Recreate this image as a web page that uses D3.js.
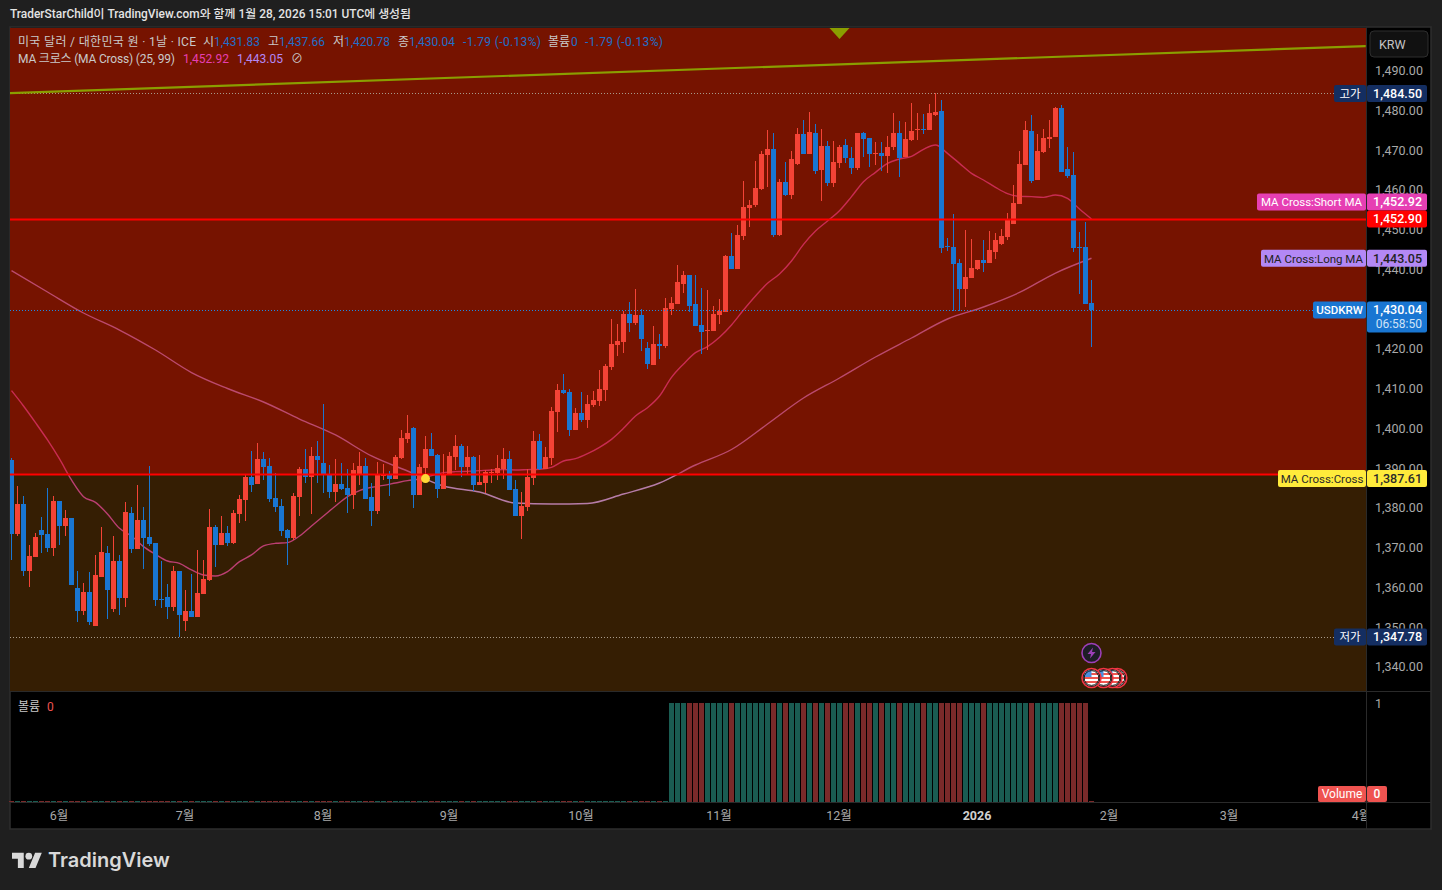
<!DOCTYPE html>
<html>
<head>
<meta charset="utf-8">
<script src="https://cdn.jsdelivr.net/npm/d3@7/dist/d3.min.js"></script>
<style>
  html, body { margin: 0; padding: 0; background: #1f1f1f; overflow: hidden; }
  svg { display: block; }
  text { font-family: Roboto, "Noto Sans CJK KR", sans-serif; }
  .axis .domain { display: none; }
  .axis text { fill: #a9a9a9; font-size: 12.5px; font-family: Roboto, "Noto Sans CJK KR", sans-serif; }
</style>
</head>
<body>
<div class="chart"></div>
<script>
const opens = [
  1392.29,1373.68,1381.22,1364.37,1367.89,1374.68,1373.68,1370.15,1381.98,1375.69,
  1377.70,1360.09,1354.31,1359.09,1350.53,1362.86,1368.90,1354.81,1366.88,1357.58,
  1378.96,1369.90,1377.20,1372.92,1371.41,1357.32,1357.83,1355.31,1364.37,1351.79,
  1354.31,1352.80,1358.58,1362.10,1375.44,1370.91,1373.93,1371.41,1378.71,1382.23,
  1388.02,1386.26,1392.55,1390.78,1382.73,1380.72,1374.68,1372.67,1382.99,1390.03,
  1388.02,1393.30,1391.54,1388.77,1384.24,1386.26,1385.25,1383.49,1388.52,1390.78,
  1382.99,1379.46,1388.27,1388.77,1387.51,1392.80,1397.58,1400.34,1383.49,1390.28,
  1395.06,1393.55,1385.00,1388.52,1393.05,1395.82,1390.53,1393.05,1386.00,1386.51,
  1389.02,1389.02,1390.03,1392.55,1385.00,1378.21,1380.47,1387.77,1397.07,1390.03,
  1392.80,1404.36,1409.90,1409.39,1399.83,1404.11,1402.35,1406.12,1407.13,1409.90,
  1415.68,1421.22,1421.97,1429.02,1426.75,1428.77,1420.46,1416.19,1421.47,1420.97,
  1430.28,1431.53,1436.56,1438.83,1431.53,1426.25,1424.74,1424.74,1428.77,1429.52,
  1443.61,1440.34,1448.64,1455.69,1456.44,1460.47,1469.02,1470.53,1448.89,1462.23,
  1458.96,1466.76,1474.30,1469.27,1474.55,1465.25,1471.28,1461.98,1467.01,1471.54,
  1468.26,1465.75,1474.55,1473.30,1469.35,1469.52,1468.77,1471.03,1474.55,1468.52,
  1472.79,1475.39,1475.56,1475.31,1479.08,1480.09,1446.13,1445.87,1441.85,1435.31,
  1438.08,1440.34,1442.60,1441.85,1444.62,1446.63,1448.39,1451.66,1456.69,1466.50,
  1475.06,1462.73,1469.77,1473.04,1473.55,1480.84,1465.50,1463.99,1445.87,1445.87,
  1431.83
];
const highs = [
  1392.71,1385.75,1383.24,1370.91,1373.93,1377.95,1385.25,1383.24,1381.98,1379.71,
  1377.70,1364.37,1361.35,1364.12,1368.39,1375.44,1370.66,1373.17,1368.39,1381.73,
  1380.47,1386.00,1380.47,1390.78,1371.41,1366.88,1361.10,1365.63,1364.37,1359.59,
  1363.61,1369.65,1367.14,1379.97,1375.94,1378.21,1375.69,1379.71,1383.49,1388.77,
  1394.56,1396.57,1394.31,1392.80,1389.02,1382.48,1374.93,1383.99,1390.53,1395.06,
  1395.56,1397.07,1406.38,1391.04,1392.55,1391.54,1390.03,1391.54,1394.31,1392.80,
  1386.51,1391.79,1391.29,1389.53,1393.55,1399.84,1403.61,1400.60,1391.29,1398.33,
  1399.09,1393.80,1393.80,1394.31,1398.58,1396.32,1395.82,1393.30,1393.55,1389.78,
  1390.03,1393.55,1395.31,1394.56,1387.26,1384.24,1390.03,1399.59,1398.83,1395.56,
  1405.63,1411.41,1413.92,1410.15,1405.37,1409.39,1408.64,1409.65,1414.93,1416.44,
  1427.76,1426.50,1429.77,1432.04,1435.31,1430.28,1421.97,1426.00,1423.99,1433.04,
  1433.29,1441.34,1439.84,1438.83,1438.83,1435.56,1435.06,1431.03,1432.79,1443.86,
  1449.40,1451.50,1462.48,1457.70,1467.51,1470.03,1475.31,1474.55,1462.98,1467.26,
  1470.03,1475.81,1477.82,1479.84,1476.82,1475.56,1472.54,1472.54,1471.54,1473.04,
  1471.03,1474.55,1474.81,1473.30,1472.29,1472.29,1473.80,1479.59,1477.57,1477.32,
  1482.10,1479.59,1479.33,1481.85,1484.50,1482.86,1448.14,1454.18,1442.85,1450.15,
  1447.89,1442.60,1447.63,1449.90,1449.40,1450.40,1454.43,1461.47,1470.03,1477.57,
  1479.08,1474.30,1475.56,1477.82,1481.10,1481.60,1471.03,1469.77,1449.65,1452.16,
  1437.66
];
const lows = [
  1367.14,1373.17,1363.11,1360.34,1367.89,1368.90,1369.15,1368.14,1370.91,1373.17,
  1360.85,1351.54,1353.30,1350.78,1350.53,1362.86,1352.29,1354.05,1353.30,1355.31,
  1368.90,1369.90,1364.87,1370.66,1355.56,1355.06,1352.29,1354.31,1347.78,1349.27,
  1352.80,1352.80,1358.58,1361.85,1365.37,1370.91,1370.66,1371.16,1376.44,1376.95,
  1384.24,1386.26,1387.26,1381.73,1379.21,1373.17,1365.88,1372.17,1378.21,1386.51,
  1378.71,1386.51,1383.99,1382.73,1381.73,1384.75,1378.96,1379.97,1386.00,1382.48,
  1375.69,1378.71,1387.26,1383.24,1387.51,1392.55,1396.57,1380.22,1383.49,1387.26,
  1393.30,1382.73,1385.00,1388.52,1389.78,1388.02,1388.77,1384.49,1386.00,1383.99,
  1386.51,1387.26,1387.51,1384.75,1378.21,1372.42,1379.46,1386.00,1389.78,1390.03,
  1391.04,1399.33,1408.89,1398.32,1399.83,1401.85,1400.34,1405.62,1405.87,1407.13,
  1414.93,1418.45,1419.21,1424.49,1426.25,1419.71,1415.18,1416.19,1417.70,1420.46,
  1428.77,1431.53,1434.30,1429.52,1426.00,1418.95,1419.96,1424.74,1426.50,1429.52,
  1440.34,1440.34,1447.63,1450.91,1455.94,1460.21,1460.97,1448.39,1448.64,1458.70,
  1457.95,1466.50,1469.27,1469.27,1464.24,1457.45,1461.22,1460.97,1465.75,1467.01,
  1464.24,1465.25,1468.52,1466.00,1466.50,1464.99,1464.49,1470.28,1463.48,1468.52,
  1472.54,1472.79,1474.30,1475.31,1478.83,1444.36,1444.87,1429.77,1429.77,1430.78,
  1438.08,1440.09,1439.58,1441.85,1442.85,1446.38,1447.63,1451.66,1456.69,1466.50,
  1461.98,1462.73,1469.52,1470.78,1473.55,1464.74,1463.23,1444.62,1434.05,1431.53,
  1420.78
];
const closes = [
  1373.68,1381.22,1364.37,1368.14,1372.92,1373.42,1370.15,1381.98,1375.69,1377.70,
  1360.85,1354.31,1359.09,1351.54,1363.36,1369.15,1359.59,1366.88,1357.58,1379.21,
  1369.90,1377.20,1372.67,1371.16,1357.07,1357.07,1355.31,1364.37,1353.30,1354.31,
  1352.80,1358.83,1362.36,1375.44,1370.91,1373.93,1371.41,1378.96,1382.48,1388.02,
  1386.00,1392.55,1390.53,1382.48,1380.47,1374.43,1372.67,1383.24,1390.03,1388.02,
  1393.30,1392.29,1388.52,1384.24,1386.26,1385.00,1383.49,1389.78,1390.78,1382.48,
  1379.46,1388.52,1388.52,1387.51,1393.05,1397.83,1399.09,1383.49,1390.53,1395.06,
  1393.30,1385.00,1388.77,1393.30,1395.82,1390.53,1393.05,1386.00,1386.76,1389.27,
  1389.27,1390.28,1392.55,1384.75,1378.21,1380.72,1388.02,1397.07,1390.03,1393.05,
  1404.62,1409.90,1409.14,1399.83,1404.11,1402.35,1406.37,1407.38,1410.15,1415.94,
  1421.47,1422.22,1429.02,1426.75,1428.77,1422.73,1416.44,1421.47,1420.97,1430.53,
  1431.78,1437.07,1438.83,1431.03,1426.00,1424.49,1424.99,1429.02,1429.77,1443.61,
  1440.34,1448.89,1455.94,1456.44,1460.72,1469.27,1470.53,1448.89,1462.23,1458.96,
  1468.01,1474.30,1469.27,1474.81,1464.99,1471.28,1461.98,1467.26,1471.03,1468.26,
  1465.75,1474.55,1473.04,1469.27,1469.52,1468.77,1471.03,1474.55,1468.26,1473.04,
  1475.06,1475.56,1475.39,1479.59,1479.84,1445.62,1445.87,1441.60,1435.31,1438.33,
  1440.59,1442.60,1441.85,1445.12,1447.63,1448.64,1452.67,1456.94,1466.76,1475.31,
  1462.48,1470.03,1473.30,1473.55,1480.84,1464.74,1463.74,1445.62,1445.62,1431.53,
  1430.04
];
const volumes = [
  0,0,0,0,0,0,0,0,0,0, 0,0,0,0,0,0,0,0,0,0, 0,0,0,0,0,0,0,0,0,0,
  0,0,0,0,0,0,0,0,0,0, 0,0,0,0,0,0,0,0,0,0, 0,0,0,0,0,0,0,0,0,0,
  0,0,0,0,0,0,0,0,0,0, 0,0,0,0,0,0,0,0,0,0, 0,0,0,0,0,0,0,0,0,0,
  0,0,0,0,0,0,0,0,0,0, 0,0,0,0,0,0,0,0,0,0,
  1,1,1,1,1,1,1,1,1,1, 1,1,1,1,1,1,1,1,1,1, 1,1,1,1,1,1,1,1,1,1,
  1,1,1,1,1,1,1,1,1,1, 1,1,1,1,1,1,1,1,1,1, 1,1,1,1,1,1,1,1,1,1,
  1,1,1,1,1,1,1,1,1,1,
  0
];

// 25 day MA, read at every 2nd candle
const maShort = [
  1409.74,1405.88,1401.69,1397.33,1392.55,1387.26,1383.07,1381.64,1378.71,1375.10,
  1373.17,1370.49,1368.56,1366.88,1366.30,1364.62,1363.36,1363.11,1364.20,1366.72,
  1368.40,1370.66,1371.33,1371.50,1373.17,1375.69,1378.20,1380.72,1383.07,1384.58,
  1385.42,1385.92,1386.51,1387.09,1387.51,1388.35,1389.10,1389.36,1389.44,1389.61,
  1389.78,1389.86,1389.78,1389.86,1389.95,1390.45,1392.04,1392.63,1393.88,1395.47,
  1397.49,1400.25,1403.36,1405.45,1408.39,1413.08,1416.44,1419.29,1420.80,1423.15,
  1426.25,1430.02,1433.55,1436.73,1439.08,1442.35,1446.54,1449.90,1452.41,1455.00,
  1458.54,1462.31,1464.66,1466.92,1468.01,1468.68,1470.44,1471.54,1469.44,1466.92,
  1464.41,1462.73,1460.88,1459.29,1458.62,1458.54,1458.37,1458.96,1458.12,1455.43,
  1452.92
];
// 99 day MA, read at every 6th candle
const maLong = [
  1439.91,1434.55,1429.27,1424.99,1419.96,1414.30,1410.28,1406.88,1402.60,1398.58,
  1393.30,1389.52,1385.75,1384.24,1381.47,1381.22,1381.35,1383.74,1386.50,1391.03,
  1394.93,1401.35,1407.89,1412.92,1418.20,1422.98,1427.76,1430.78,1434.43,1439.33,
  1443.05
];

const priceTicks = [1490,1480,1470,1460,1450,1440,1430,1420,1410,1400,1390,1380,1370,1360,1350,1340];
const monthIdx = [8,29,52,73,95,118,138,161,183,203,225];
const monthLabels = ['6월','7월','8월','9월','10월','11월','12월','2026','2월','3월','4월'];
const trendIdx = [-0.25,225.7];
const trendPrice = [1484.6,1496.4];
const zoneSplit = 1388.77;
const resistance = 1452.90;
const dayHigh = 1484.50;
const dayLow = 1347.78;
const lastPrice = 1430.04;
const crossPrice = 1387.61;
const crossIdx = 69;
const triangleIdx = 138;
const flagIdx = [184.3,183.5,182,180];

const left = 10, right = 1367, plotTop = 28, paneBottom = 691, volBottom = 802, bottom = 829, outer = 1431;

const xScale = d3.scaleLinear().domain([0,100]).range([11.5,611.5]);
const yScale = d3.scaleLinear().domain([1490,1340]).range([71.6,667.85]);
const vScale = d3.scaleLinear().domain([0,1]).range([volBottom,703]);

const rows = opens.map((o,i) => ({i, o, h: highs[i], l: lows[i], c: closes[i], v: volumes[i]}));

const svg = d3.select('.chart').append('svg').attr('width',1442).attr('height',890);
const defs = svg.append('defs');

const addClip = function (id, x, y, w, h) {
  defs.append('clipPath').attr('id',id).append('rect').attr('x',x).attr('y',y).attr('width',w).attr('height',h);
};
const splitY = yScale(zoneSplit);
addClip('plot', left, plotTop, right-left, paneBottom-plotTop);
addClip('upper', left, plotTop, right-left, splitY-plotTop);
addClip('lower', left, splitY, right-left, paneBottom-splitY);
addClip('times', left, volBottom, right-left-1, bottom-volBottom);
defs.append('clipPath').attr('id','flag').append('circle').attr('r',8);

const drawFrame = function () {
  svg.append('rect').attr('x',left).attr('y',27).attr('width',outer-left).attr('height',bottom-27).attr('fill','#000').attr('stroke','#2e2e2e').attr('stroke-width',1.5);
  svg.append('rect').attr('x',left).attr('y',plotTop).attr('width',right-left).attr('height',splitY-plotTop).attr('fill','#761300');
  svg.append('rect').attr('x',left).attr('y',splitY).attr('width',right-left).attr('height',paneBottom-splitY).attr('fill','#351e03');
  const seps = [[left,paneBottom,outer,paneBottom],[left,volBottom,outer,volBottom],[right-0.5,27,right-0.5,bottom]];
  svg.selectAll('.sep').data(seps).enter().append('line').attr('class','sep')
    .attr('x1',d=>d[0]).attr('y1',d=>d[1]+0.5).attr('x2',d=>d[2]).attr('y2',d=>d[3]+0.5)
    .attr('stroke','#2a2a2a');
};

const drawMa = function (values, step, upperColor, lowerColor) {
  const line = d3.line().x((d,i)=>xScale(i*step)).y(d=>yScale(d)).curve(d3.curveMonotoneX);
  [['upper',upperColor],['lower',lowerColor]].forEach(p => {
    svg.append('path').attr('d',line(values)).attr('fill','none')
      .attr('stroke',p[1]).attr('stroke-width',1.4).attr('clip-path',`url(#${p[0]})`);
  });
};

const drawCandles = function () {
  const g = svg.append('g').attr('clip-path','url(#plot)').attr('shape-rendering','crispEdges');
  const color = d => d.c >= d.o ? '#f44336' : '#1976d2';
  g.selectAll('.wick').data(rows).enter().append('rect').attr('class','wick')
    .attr('x',d=>xScale(d.i)-0.5).attr('width',1)
    .attr('y',d=>Math.round(yScale(d.h))).attr('height',d=>Math.max(1,Math.round(yScale(d.l))-Math.round(yScale(d.h))))
    .attr('fill',color);
  g.selectAll('.body').data(rows).enter().append('rect').attr('class','body')
    .attr('x',d=>xScale(d.i)-2.5).attr('width',5)
    .attr('y',d=>Math.round(yScale(Math.max(d.o,d.c))))
    .attr('height',d=>Math.max(1,Math.round(yScale(Math.min(d.o,d.c)))-Math.round(yScale(Math.max(d.o,d.c)))))
    .attr('fill',color);
};

const drawVolume = function () {
  svg.append('g').attr('shape-rendering','crispEdges').selectAll('rect').data(rows).enter().append('rect')
    .attr('x',d=>xScale(d.i)-2.5).attr('width',5)
    .attr('y',d=>d.v ? vScale(d.v) : volBottom-1)
    .attr('height',d=>d.v ? volBottom-vScale(d.v) : 1)
    .attr('fill',d=>d.c >= d.o ? '#1a5c52' : '#7a2a2a');
};

const drawLevels = function () {
  const hline = (price, color, width, dash) => svg.append('line')
    .attr('x1',left).attr('x2',right-1).attr('y1',Math.round(yScale(price))+0.5).attr('y2',Math.round(yScale(price))+0.5)
    .attr('stroke',color).attr('stroke-width',width).attr('stroke-dasharray',dash);
  hline(dayHigh,'#a89a8a',1,'1,2');
  hline(dayLow,'#a89a8a',1,'1,2');
  hline(lastPrice,'#1e88e5',1,'1,2');
  hline(resistance,'#ff0000',2,null);
  hline(zoneSplit,'#ff0000',2,null);
  const trend = d3.line().x((d,i)=>xScale(trendIdx[i])).y(d=>yScale(d));
  svg.append('path').attr('d',trend(trendPrice)).attr('fill','none').attr('stroke','#8a9e00').attr('stroke-width',2.2).attr('clip-path','url(#plot)');
  const tx = xScale(triangleIdx);
  svg.append('path').attr('d',`M${tx-10},${plotTop}L${tx+10},${plotTop}L${tx},${plotTop+11}Z`).attr('fill','#8a9e00');
  svg.append('circle').attr('cx',xScale(crossIdx)).attr('cy',yScale(crossPrice)).attr('r',4.5).attr('fill','#fdd835');
};

const drawAxes = function () {
  svg.append('g').attr('class','axis').attr('transform',`translate(${right},-1)`)
    .call(d3.axisRight(yScale).tickValues(priceTicks).tickSize(0).tickPadding(8).tickFormat(d3.format(',.2f')));
  svg.append('g').attr('clip-path','url(#times)').append('g').attr('class','axis').attr('transform',`translate(-1,${volBottom+9})`)
    .call(d3.axisBottom(xScale).tickValues(monthIdx).tickSize(0).tickPadding(0).tickFormat((d,i)=>monthLabels[i]))
    .selectAll('text').filter((d,i)=>monthLabels[i]==='2026').attr('font-weight','bold').style('fill','#d0d0d0');
  svg.append('text').attr('x',1375).attr('y',708).attr('font-size',12.5).attr('fill','#a9a9a9').text('1');
};

const drawTag = function (x0, w, cy, h, fill, color, label, size, bold) {
  svg.append('rect').attr('x',x0).attr('y',cy-h/2).attr('width',w).attr('height',h).attr('rx',2).attr('fill',fill);
  svg.append('text').attr('x',x0+w/2).attr('y',cy+4.3).attr('text-anchor','middle').attr('font-size',size||12.5)
    .attr('font-weight',bold ? 500 : 400).attr('fill',color).text(label);
};

const drawValue = function (cy, fill, color, label) {
  svg.append('rect').attr('x',right).attr('y',cy-8.5).attr('width',60).attr('height',17).attr('rx',2).attr('fill',fill);
  svg.append('text').attr('x',1422).attr('y',cy+4.3).attr('text-anchor','end').attr('font-size',12.5)
    .attr('font-weight',500).attr('fill',color).text(label);
};

const drawTags = function () {
  svg.append('rect').attr('x',1370).attr('y',31).attr('width',58).attr('height',26).attr('rx',4).attr('fill','#111').attr('stroke','#2e2e2e');
  svg.append('text').attr('x',1379).attr('y',49).attr('font-size',12.5).attr('fill','#c4c4c4').text('KRW');

  const rowsTag = [
    {name:'고가', val:dayHigh, fill:'#142e61', color:'#fff', y:yScale(dayHigh), w:32},
    {name:'저가', val:dayLow, fill:'#142e61', color:'#fff', y:yScale(dayLow), w:32},
    {name:'MA Cross:Cross', val:crossPrice, fill:'#ffeb3b', color:'#2a2a2a', y:yScale(crossPrice), w:88},
    {name:'MA Cross:Long MA', val:maLong[maLong.length-1], fill:'#b388f5', color:'#222', y:yScale(maLong[maLong.length-1]), w:105},
    {name:'MA Cross:Short MA', val:maShort[maShort.length-1], fill:'#e63fb3', color:'#fff', y:yScale(maShort[maShort.length-1])-17, w:109}
  ];
  rowsTag.forEach(t => {
    drawTag(right-t.w-1, t.w, t.y, 17, t.fill, t.color, t.name, 11.5);
    drawValue(t.y, t.fill, t.color, d3.format(',.2f')(t.val));
  });
  drawValue(yScale(resistance), '#ff0000', '#fff', d3.format(',.2f')(resistance));

  const ly = yScale(lastPrice);
  drawTag(1313, 53, ly, 17, '#1976d2', '#fff', 'USDKRW', 11.5, true);
  svg.append('rect').attr('x',right).attr('y',ly-8.5).attr('width',60).attr('height',31).attr('rx',2).attr('fill','#1976d2');
  svg.append('text').attr('x',1422).attr('y',ly+4.3).attr('text-anchor','end').attr('font-size',12.5).attr('font-weight',500).attr('fill','#fff').text(d3.format(',.2f')(lastPrice));
  svg.append('text').attr('x',1422).attr('y',ly+18).attr('text-anchor','end').attr('font-size',12).attr('fill','#cfe3f7').text('06:58:50');

  drawTag(1318, 48, 794, 16, '#ef5350', '#fff', 'Volume', 12);
  drawTag(right, 20, 794, 16, '#ef5350', '#fff', '0', 12, true);
};

const drawEvents = function () {
  const ex = xScale(180);
  svg.append('circle').attr('cx',ex).attr('cy',653).attr('r',9.5).attr('fill','#1d1d26').attr('stroke','#9c3fb8').attr('stroke-width',1.6);
  svg.append('path').attr('transform',`translate(${ex},653)`).attr('d','M1.5,-5.5L-4,1H-0.5L-1.5,5.5L4,-1H0.5Z').attr('fill','#9c3fb8');
  flagIdx.forEach(i => {
    const g = svg.append('g').attr('transform',`translate(${xScale(i)},678)`);
    g.append('circle').attr('r',9.5).attr('fill','#111').attr('stroke','#f23645').attr('stroke-width',1.6);
    const f = g.append('g').attr('clip-path','url(#flag)');
    f.append('rect').attr('x',-8).attr('y',-8).attr('width',16).attr('height',16).attr('fill','#fff');
    [-5,-1,3].forEach(y => f.append('rect').attr('x',-8).attr('y',y).attr('width',16).attr('height',2).attr('fill','#f0564f'));
    f.append('rect').attr('x',-8).attr('y',-8).attr('width',8).attr('height',7).attr('fill','#4a8fe0');
    g.append('circle').attr('r',7.4).attr('fill','none').attr('stroke','#111').attr('stroke-width',1);
  });
};

const putText = function (x, y, str, color, size, weight, len) {
  const t = svg.append('text').attr('x',x).attr('y',y).attr('font-size',size||12).attr('font-weight',weight||400).attr('fill',color).text(str);
  if (len) t.attr('textLength',len).attr('lengthAdjust','spacing');
};

const drawLegend = function () {
  const grey = '#c9c9c9', blue = '#1f6fc8';
  putText(10,18,'TraderStarChild이 TradingView.com와 함께 1월 28, 2026 15:01 UTC에 생성됨','#e4e4e4',11.9,500,401);
  putText(18,45.5,'미국 달러 / 대한민국 원 · 1날 · ICE',grey,12,400,178);
  [[203,'시',grey],[214,'1,431.83',blue],[268,'고',grey],[279,'1,437.66',blue],[333,'저',grey],[344,'1,420.78',blue],
   [398,'종',grey],[409,'1,430.04',blue],[548,'볼륨',grey],[571,'0',blue]]
    .forEach(t => putText(t[0],45.5,t[1],t[2]));
  putText(463,45.5,'-1.79 (-0.13%)',blue,12,400,78);
  putText(585,45.5,'-1.79 (-0.13%)',blue,12,400,78);
  putText(18,63,'MA 크로스 (MA Cross) (25, 99)',grey,12,400,157);
  putText(183,63,'1,452.92','#e63fb3');
  putText(237,63,'1,443.05','#b388f5');
  putText(291,63,'⊘',grey);
  putText(18,711,'볼륨','#c9c9c9');
  putText(47,711,'0','#ef5350');
};

const drawLogo = function () {
  const g = svg.append('g').attr('transform','translate(12,849.5) scale(0.84)').attr('fill','#d9d9d9');
  g.append('path').attr('d','M14 22H7V11H0V4h14v18ZM28 22h-8l7.5-18h8L28 22Z');
  g.append('circle').attr('cx',20).attr('cy',8).attr('r',4);
  svg.append('text').attr('x',48).attr('y',867).attr('font-size',20).attr('font-weight',600).attr('fill','#d9d9d9').style('font-family','Inter').text('TradingView');
};

drawFrame();
drawMa(maShort, 2, '#c92c52', '#bb3f72');
drawMa(maLong, 6, '#bb4a6e', '#b67ca8');
drawCandles();
drawVolume();
drawLevels();
drawAxes();
drawTags();
drawEvents();
drawLegend();
drawLogo();
</script>
</body>
</html>
